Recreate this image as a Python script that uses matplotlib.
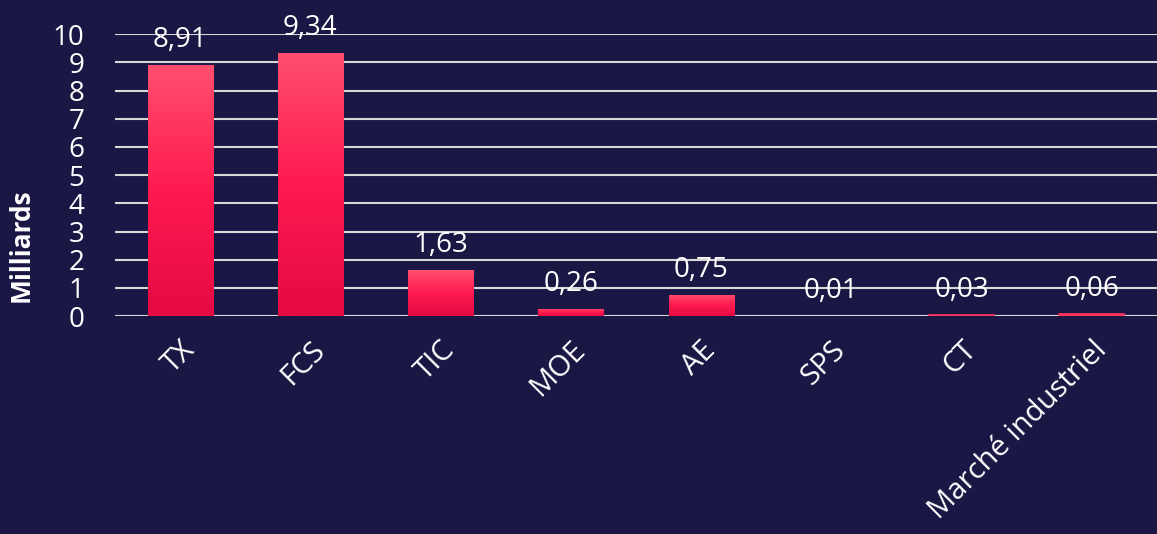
import numpy as np
import matplotlib.pyplot as plt
from matplotlib.colors import LinearSegmentedColormap

categories = ["TX", "FCS", "TIC", "MOE", "AE", "SPS", "CT", "Marché industriel"]
values = [8.91, 9.34, 1.63, 0.26, 0.75, 0.01, 0.03, 0.06]
labels = ["8,91", "9,34", "1,63", "0,26", "0,75", "0,01", "0,03", "0,06"]

BG = "#1b1745"
plt.rcParams["font.family"] = ["Open Sans", "DejaVu Sans"]

fig = plt.figure(figsize=(11.57, 5.34), dpi=100, facecolor=BG)
ax = fig.add_axes([0.0994, 0.408, 0.9006, 0.528])
ax.set_facecolor(BG)

x = np.arange(len(categories))
bars = ax.bar(x, values, width=0.5, color="#ff3560", zorder=3)

cmap = LinearSegmentedColormap.from_list("g", ["#e40a44", "#ff1a50", "#ff4f6e"])
grad = np.linspace(0, 1, 256).reshape(-1, 1)
for b, v in zip(bars, values):
    x0, y0 = b.get_x(), b.get_y()
    w, h = b.get_width(), b.get_height()
    if v < 0.1:
        # very thin bars: just a solid sliver
        if v > 0.02:
            b.set_edgecolor("#ff3560")
            b.set_linewidth(1.2)
        continue
    im = ax.imshow(grad, cmap=cmap, origin="lower", aspect="auto",
                   extent=[x0, x0 + w, y0, y0 + h], zorder=3)
    im.set_clip_path(b)

for xi, v, lab in zip(x, values, labels):
    ax.annotate(lab, (xi, v), xytext=(0, 8), textcoords="offset points",
                ha="center", va="bottom", color="white", fontsize=20, zorder=4)

ax.set_xlim(-0.5, 7.5)
ax.set_ylim(0, 10)
ax.set_yticks(range(0, 11))
ax.yaxis.grid(True, color="#d8d8d8", lw=1.5, zorder=1)
ax.set_axisbelow(True)
for s in ax.spines.values():
    s.set_visible(False)
ax.tick_params(axis="both", length=0, colors="white", labelsize=20)
ax.tick_params(axis="y", pad=22)
ax.set_xticks(x)
ax.set_xticklabels(categories, rotation=45, ha="right", rotation_mode="anchor",
                   fontsize=21)
ax.tick_params(axis="x", pad=14)
ax.set_ylabel("Milliards", color="white", fontsize=19, fontweight="bold")
ax.yaxis.set_label_coords(-0.077, 0.25)

fig.savefig("out.png", facecolor=BG)
